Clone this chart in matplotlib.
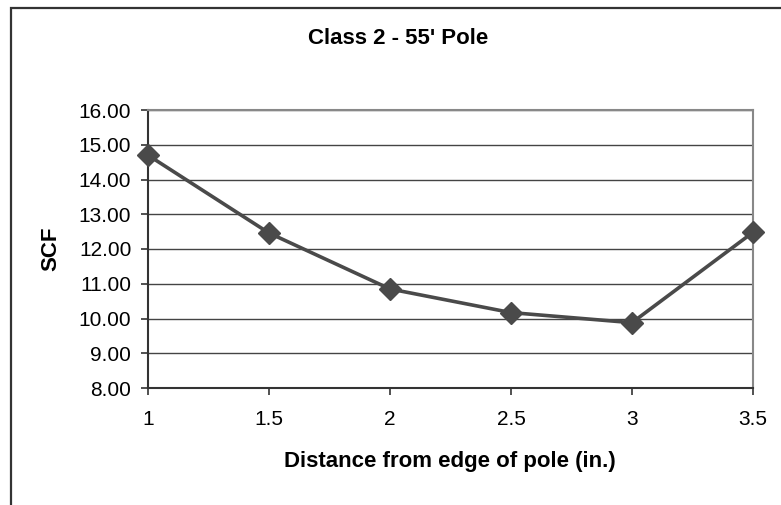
import matplotlib
matplotlib.use("Agg")
import matplotlib.pyplot as plt
from matplotlib.patches import Rectangle

x_values = [1, 1.5, 2, 2.5, 3, 3.5]
x_labels = ["1", "1.5", "2", "2.5", "3", "3.5"]
scf_values = [14.70, 12.46, 10.85, 10.17, 9.88, 12.48]
y_ticks = [8, 9, 10, 11, 12, 13, 14, 15, 16]
title = "Class 2 - 55' Pole"
x_title = "Distance from edge of pole (in.)"
y_title = "SCF"

plt.rcParams['font.family'] = ['Liberation Sans', 'DejaVu Sans']

W, H = 781, 505
fig = plt.figure(figsize=(W / 100, H / 100), dpi=100)
fig.patch.set_facecolor('white')

# chart-area border (extends beyond right/bottom edges)
fig.patches.append(Rectangle((11 / W, -0.1), 1.2, 1 - 8 / H + 0.1, transform=fig.transFigure,
                             fill=False, edgecolor='#333333', linewidth=1.6, zorder=0))

left, right, top, bottom = 148, 753, 110, 388
ax = fig.add_axes([left / W, 1 - bottom / H, (right - left) / W, (bottom - top) / H])

ax.plot(x_values, scf_values, color='#4a4a4a', linewidth=2.6, marker='D', markersize=11,
        markerfacecolor='#4a4a4a', markeredgecolor='#4a4a4a', markeredgewidth=1,
        zorder=3, clip_on=False)

ax.set_xlim(1, 3.5)
ax.set_ylim(8, 16)
ax.set_xticks(x_values)
ax.set_xticklabels(x_labels)
ax.set_yticks(y_ticks)
ax.set_yticklabels([f"{v:.2f}" for v in y_ticks])
ax.yaxis.grid(True, color='#444444', linewidth=1)
ax.set_axisbelow(True)

for s in ['top', 'right']:
    ax.spines[s].set_color('#888888')
    ax.spines[s].set_linewidth(1.5)
for s in ['left', 'bottom']:
    ax.spines[s].set_color('#333333')
    ax.spines[s].set_linewidth(1.5)

ax.tick_params(axis='both', direction='out', length=5, width=1.2, color='#333333',
               labelsize=15, labelcolor='black')
ax.tick_params(axis='y', pad=7)
ax.tick_params(axis='x', pad=11)

fig.text(398 / W, 1 - 44 / H, title, ha='center', va='baseline', fontsize=16, fontweight='bold')
fig.text(450 / W, 1 - 467 / H, x_title, ha='center', va='baseline', fontsize=16, fontweight='bold')
fig.text(51 / W, 1 - 249 / H, y_title, ha='center', va='center', rotation=90, fontsize=16,
         fontweight='bold')

fig.savefig('out.png', dpi=100)
